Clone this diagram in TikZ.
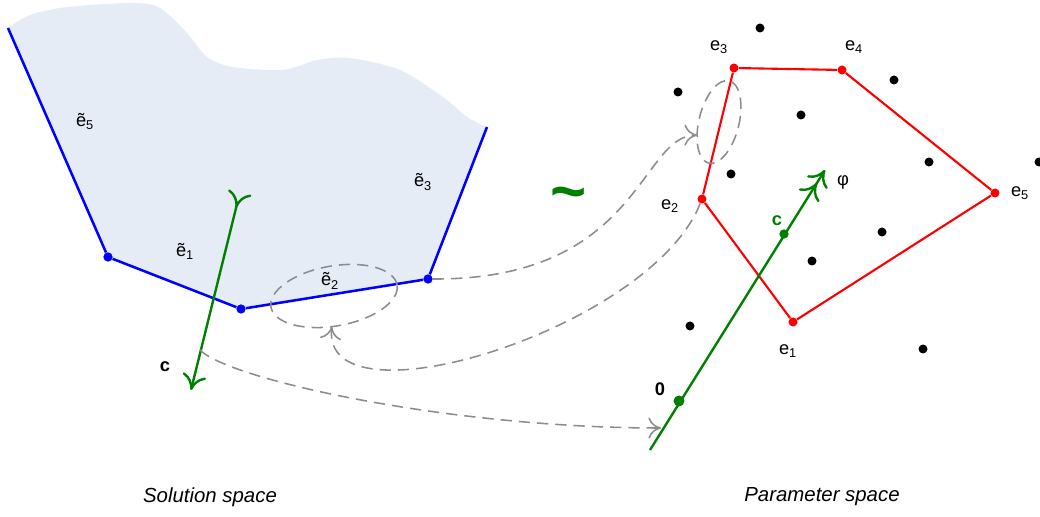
\documentclass[tikz,border=0pt]{standalone}
\usepackage{fontspec}
\setmainfont{Liberation Sans}
\usetikzlibrary{arrows.meta}
\usetikzlibrary{positioning, shapes.geometric}
\definecolor{regionfill}{RGB}{230,236,246}
\definecolor{darkgreen}{RGB}{0,128,0}
\definecolor{linkgray}{RGB}{140,140,140}

\begin{document}
\begin{tikzpicture}[x=0.025cm, y=-0.025cm, font=\fontsize{13}{15}\selectfont,
			dot/.style={circle, fill, inner sep=0pt, minimum size=6.4pt},
			bluedot/.style={dot, fill=blue, minimum size=6.6pt},
			reddot/.style={dot, fill=red},
			greendot/.style={dot, fill=darkgreen, minimum size=#1},
			blueedge/.style={blue, line width=1.8pt},
			rededge/.style={red, line width=1.5pt},
			vec/.style={darkgreen, line width=1.7pt},
			ring/.style={ellipse, draw=linkgray, line width=1.1pt, dash pattern=on 8pt off 5pt, inner sep=0pt, outer sep=0pt},
			link/.style={linkgray, line width=1.1pt, dash pattern=on 8pt off 5pt, -{Computer Modern Rightarrow[length=9pt,width=15pt]}},
			vtip/.tip={Computer Modern Rightarrow[length=11pt,width=17pt]},
			lbl/.style={inner sep=1pt}]

			\useasboundingbox (0,0) rectangle (1040,517);

			\fill[regionfill] (8,28) -- (108,257) -- (241,309) -- (428,279) -- (487,127)
			  -- plot[smooth] coordinates {(487,127) (467,117) (443,97) (400,70) (350,58) (317,60)
			  (283,70) (233,67) (207,57) (187,33) (160,8) (133,3) (67,7) (30,15) (8,28)} -- cycle;

			\coordinate (b0) at (8,28);
			\coordinate (b4) at (487,127);
			\node[bluedot] (t1) at (108,257) {};
			\node[bluedot] (t2) at (241,309) {};
			\node[bluedot] (t3) at (428,279) {};
			\draw[blueedge] (b0) -- (t1) -- (t2) -- (t3) -- (b4);

			\node[lbl] (lt5) at (85,122) {ẽ\textsubscript{5}};
			\node[lbl] (lt1) at (185,251) {ẽ\textsubscript{1}};
			\node[lbl] (lt2) at (330,281) {ẽ\textsubscript{2}};
			\node[lbl] (lt3) at (423,182) {ẽ\textsubscript{3}};

			\coordinate (ctop) at (240,192);
			\coordinate (cbot) at (191,390);
			\draw[vec, {Computer Modern Rightarrow[reversed,length=11pt,width=17pt]}-{vtip[]}] (ctop) -- (cbot);
			\node[lbl, font=\fontsize{13}{15}\bfseries] (lc) at (165,367) {c};

			\node[ring, minimum width=3.2cm, minimum height=1.5cm, rotate=10] (ellA) at (334,296) {};

			\node[text=darkgreen, font=\fontsize{44}{44}\bfseries] (tilde) at (569,200) {\textasciitilde};

			\node[dot] (p1) at (760,28) {};
			\node[dot] (p2) at (678,92) {};
			\node[dot] (p3) at (801,115) {};
			\node[dot] (p4) at (894,80) {};
			\node[dot] (p5) at (929,162) {};
			\node[dot] (p6) at (1039,162) {};
			\node[dot] (p7) at (731,174) {};
			\node[dot] (p8) at (882,232) {};
			\node[dot] (p9) at (812,261) {};
			\node[dot] (p10) at (690,326) {};
			\node[dot] (p11) at (923,349) {};

			\node[reddot] (v1) at (793,322) {};
			\node[reddot] (v2) at (702,199) {};
			\node[reddot] (v3) at (734,68) {};
			\node[reddot] (v4) at (842,70) {};
			\node[reddot] (v5) at (995,193) {};
			\draw[rededge] (v1) -- (v2) -- (v3) -- (v4) -- (v5) -- (v1);

			\node[lbl] (le1) at (788,351) {e\textsubscript{1}};
			\node[lbl] (le2) at (670,206) {e\textsubscript{2}};
			\node[lbl] (le3) at (719,47) {e\textsubscript{3}};
			\node[lbl] (le4) at (854,47) {e\textsubscript{4}};
			\node[lbl] (le5) at (1020,193) {e\textsubscript{5}};
			\node[lbl] (lphi) at (843,182) {φ};

			\node[ring, minimum width=1.0cm, minimum height=2.12cm, rotate=-14] (ellB) at (719,122) {};

			\coordinate (g0) at (650,450);
			\coordinate (g1) at (825,170);
			\draw[vec, -{vtip[] vtip[]}] (g0) -- (g1);
			\node[greendot=7.8pt] (zero) at (679,401) {};
			\node[greendot=6.6pt] (cpt) at (784,234) {};
			\node[lbl, font=\fontsize{13}{15}\bfseries] (lzero) at (660,389) {0};
			\node[lbl, text=darkgreen, font=\fontsize{13}{15}\bfseries] (lcpt) at (777,221) {c};

			\coordinate (cs) at (200,350);
			\coordinate (ce) at (661,428);
			\draw[link] (t3) .. controls (640,280) and (640,135) .. (ellB.225);
			\draw[link] (v2) .. controls (650,330) and (320,430) .. (ellA.256);
			\draw[link] (cs) .. controls (230,380) and (450,428) .. (ce);

			\node[font=\fontsize{14.5}{17}\itshape] (sol) at (210,497) {Solution space};
			\node[font=\fontsize{14.5}{17}\itshape] (par) at (822,497) {Parameter space};
			\end{tikzpicture}
\end{document}
